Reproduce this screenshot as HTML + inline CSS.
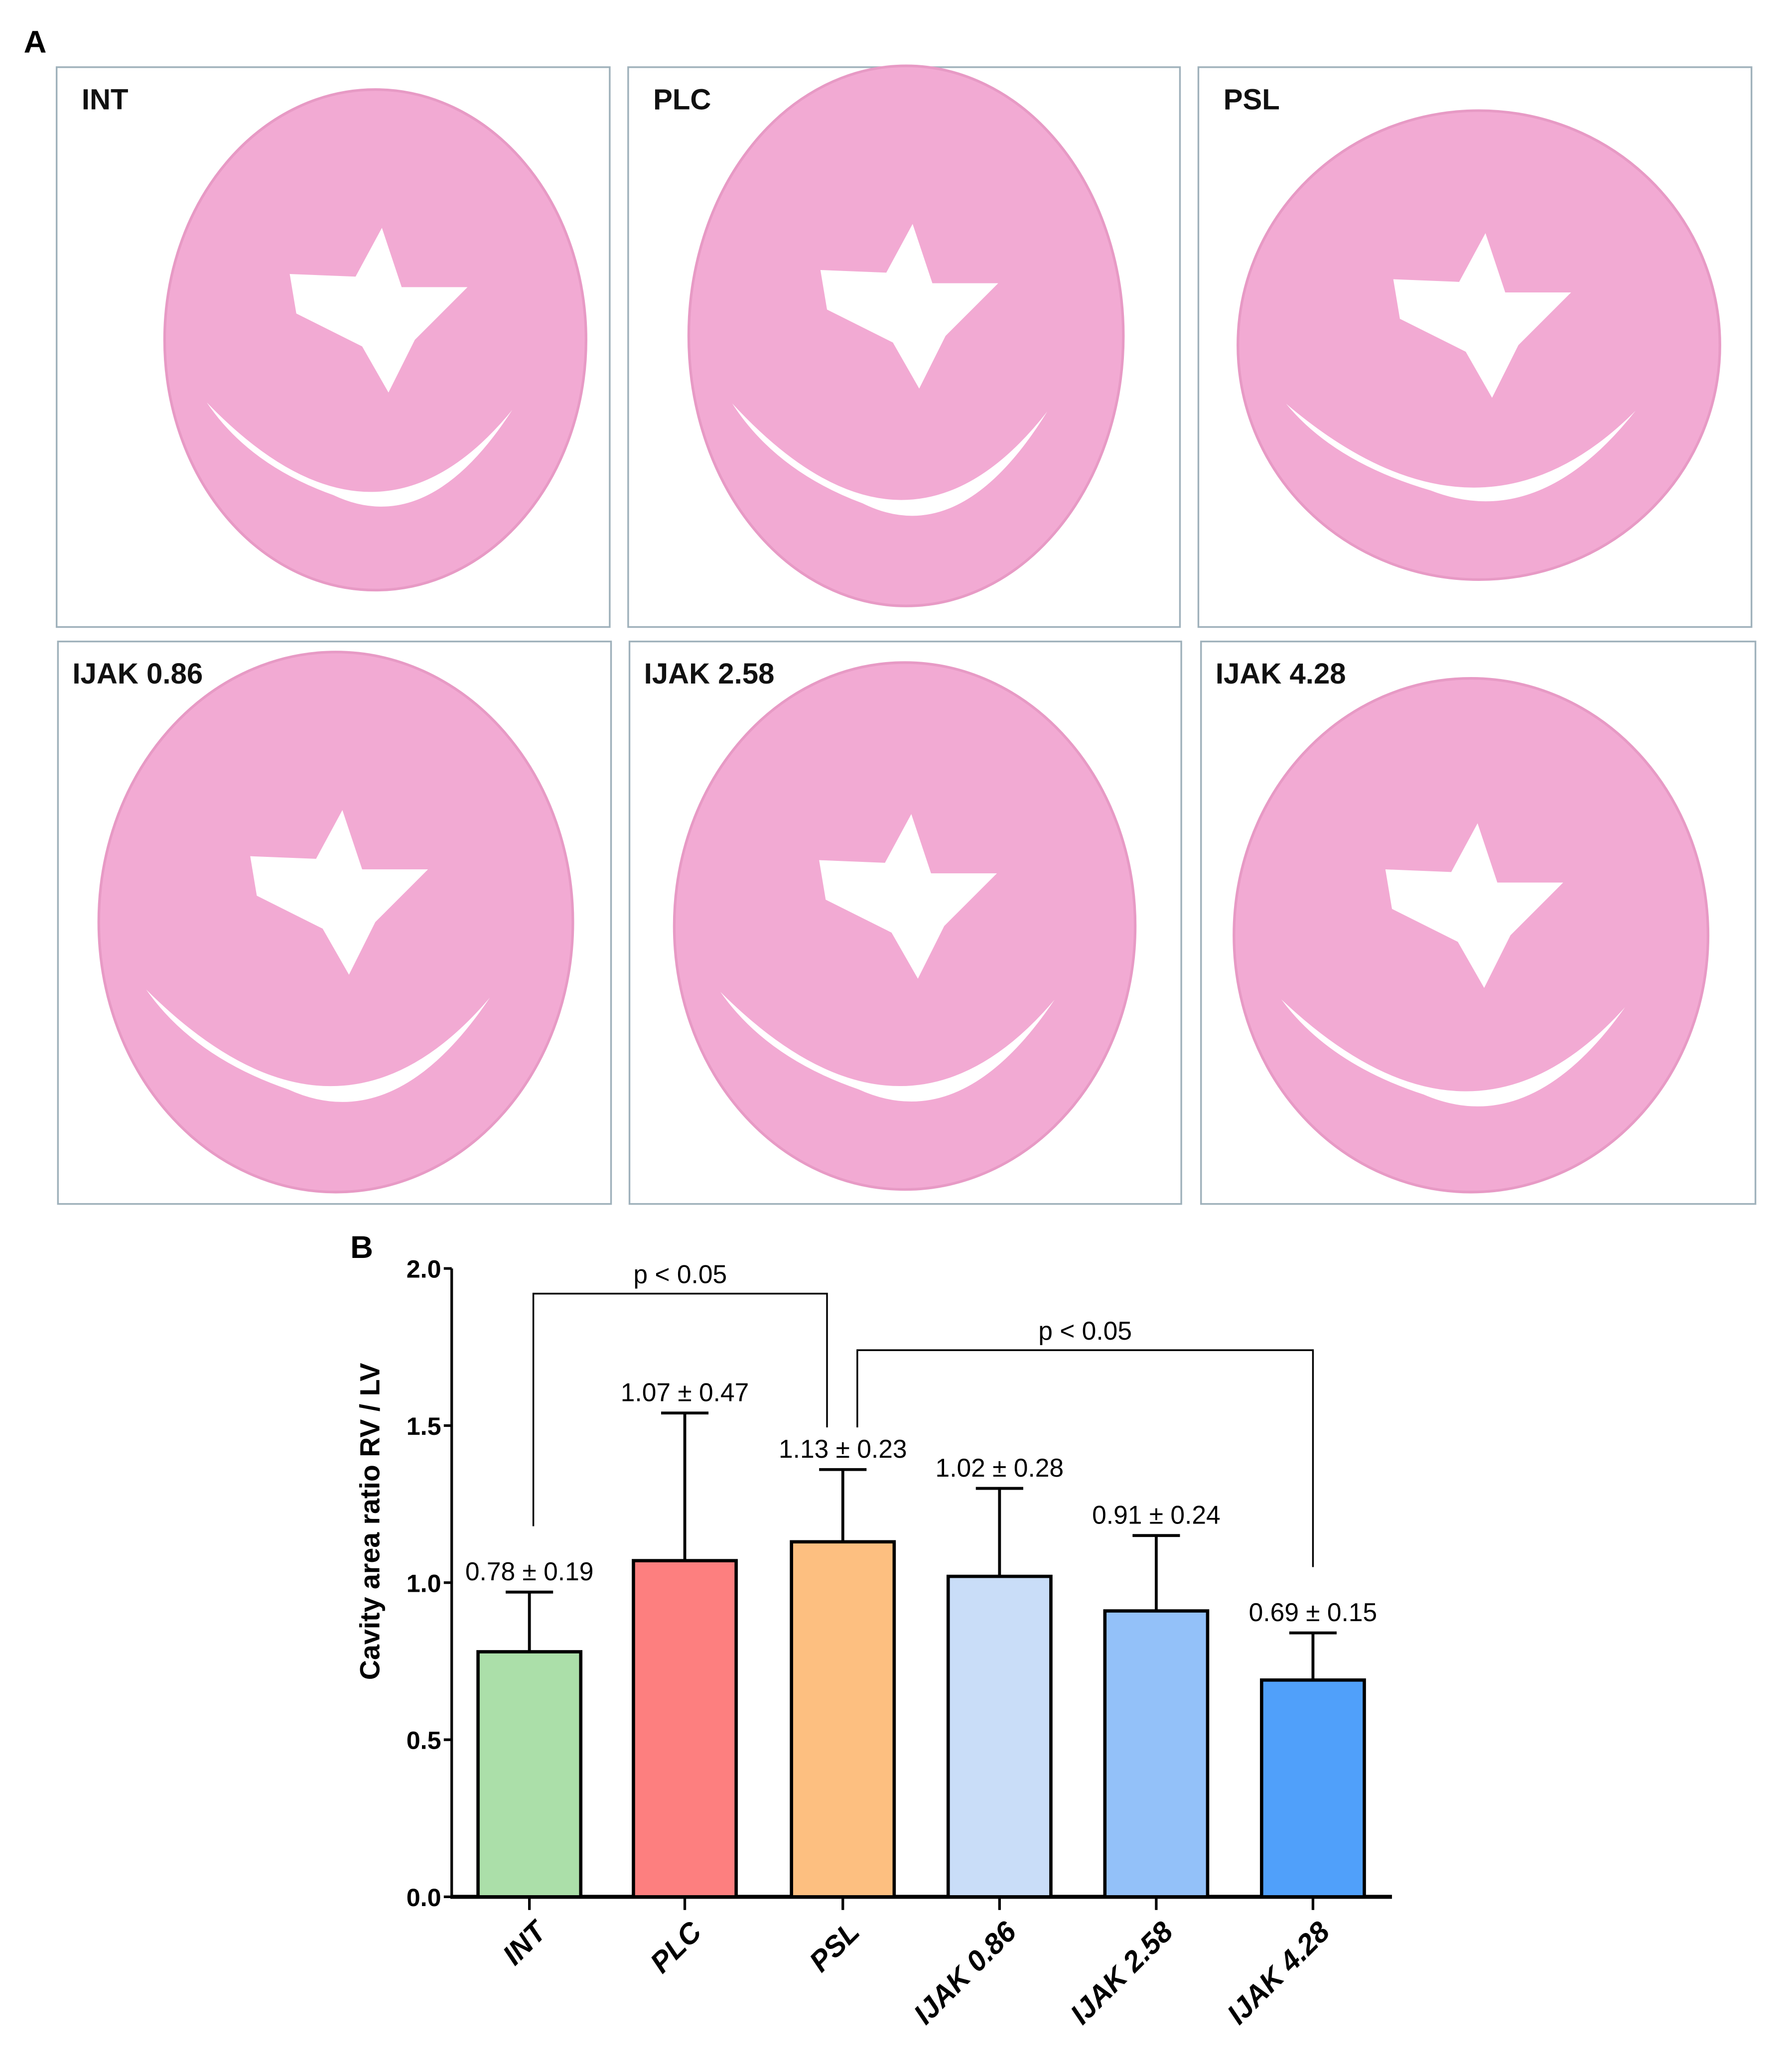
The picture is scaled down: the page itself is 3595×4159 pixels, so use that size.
<!DOCTYPE html>
<html><head><meta charset="utf-8"><style>
html,body{margin:0;padding:0;background:#fff;}
svg{display:block;}
text{font-family:"Liberation Sans",Arial,sans-serif;}
</style></head><body>
<svg width="3595" height="4159" viewBox="0 0 1360 1573" preserveAspectRatio="none">
<rect x="0" y="0" width="1360" height="1573" fill="#fff"/>
<text x="18" y="40" font-size="24" font-weight="bold">A</text>
<g id="panels"></g>
<text x="266" y="955" font-size="24" font-weight="bold">B</text>
<g id="chart"></g>
</svg>
<script>
const categories = ["INT","PLC","PSL","IJAK 0.86","IJAK 2.58","IJAK 4.28"];
const means = [0.78,1.07,1.13,1.02,0.91,0.69];
const sds = [0.19,0.47,0.23,0.28,0.24,0.15];
const colors = ["#abdfa9","#fd7f7f","#fdbf80","#c9ddf8","#93c1f9","#50a0fa"];
const yTicks = [0,0.5,1.0,1.5,2.0];
const yTickLabels = ["0.0","0.5","1.0","1.5","2.0"];
const brackets = [{from:0,to:2,level:1.92,label:"p < 0.05"},{from:2,to:5,level:1.74,label:"p < 0.05"}];

const NS="http://www.w3.org/2000/svg";
function mk(tag,attrs,parent){const e=document.createElementNS(NS,tag);for(const k in attrs)e.setAttribute(k,attrs[k]);parent.appendChild(e);return e;}

const panels=document.getElementById('panels');
const boxes=[[43,51,420,425,"INT",285,258,160,190],[477,51,419,425,"PLC",688,255,165,205],[910,51,420,425,"PSL",1123,262,183,178],
[44,487,420,427,"IJAK 0.86",255,700,180,205],[478,487,419,427,"IJAK 2.58",687,703,175,200],[912,487,421,427,"IJAK 4.28",1117,710,180,195]];
boxes.forEach((b,i)=>{
  const r=mk('rect',{x:b[0],y:b[1],width:b[2],height:b[3],fill:'#fff',stroke:'#9fb1bb','stroke-width':1.3},panels);
  
  
  const h=mk('ellipse',{cx:b[5],cy:b[6],rx:b[7],ry:b[8],fill:'#f2aad3',stroke:'#e79ac5','stroke-width':2},panels);
  
  
  const cx=b[5],cy=b[6],rx=b[7],ry=b[8];
  const lv=mk('path',{d:`M${cx-65},${cy-50} L${cx-15},${cy-48} L${cx+5},${cy-85} L${cx+20},${cy-40} L${cx+70},${cy-40} L${cx+30},${cy} L${cx+10},${cy+40} L${cx-10},${cy+5} L${cx-60},${cy-20} Z`,fill:'#fff'},panels);
  
  
  const rv=mk('path',{d:`M${cx-rx*0.8},${cy+ry*0.25} Q${cx},${cy+ry*0.95} ${cx+rx*0.65},${cy+ry*0.28} Q${cx+rx*0.25},${cy+ry*0.8} ${cx-rx*0.2},${cy+ry*0.62} Q${cx-rx*0.6},${cy+ry*0.5} ${cx-rx*0.8},${cy+ry*0.25} Z`,fill:'#fff'},panels);
  
  
  const t=mk('text',{x:b[0]+(i<3?19:11),y:b[1]+32,'font-size':22,'font-weight':'bold',fill:'#111'},panels);
  t.textContent=b[4];
  
  
});

const g=document.getElementById('chart');
const X0=343, Y0=1440, PXU=238.5;
const centers=[402,520,640,759,878,997], BW=78;
function y(v){return Y0-v*PXU;}
function xc(i){return centers[i];}
mk('line',{x1:X0,y1:y(0)+1,x2:X0,y2:y(2),stroke:'#000','stroke-width':2},g);
mk('line',{x1:X0-1,y1:Y0,x2:1057,y2:Y0,stroke:'#000','stroke-width':3},g);
yTicks.forEach((v,i)=>{
  const l=mk('line',{x1:X0-6,y1:y(v),x2:X0,y2:y(v),stroke:'#000','stroke-width':2},g);
  
  
  const t=mk('text',{x:X0-8,y:y(v)+7,'font-size':19,'font-weight':'bold','text-anchor':'end'},g);
  t.textContent=yTickLabels[i];
  
  
});
const yl=mk('text',{x:0,y:0,'font-size':21,'font-weight':'bold','text-anchor':'middle',transform:'translate(288,1155) rotate(-90)'},g);
yl.textContent="Cavity area ratio RV / LV";


categories.forEach((c,i)=>{
  const cx=xc(i);
  const bar=mk('rect',{x:cx-BW/2,y:y(means[i]),width:BW,height:Y0-y(means[i]),fill:colors[i],stroke:'#000','stroke-width':2.5},g);
  
  
  const top=y(means[i]+sds[i]);
  const e=mk('path',{d:`M${cx},${y(means[i])} V${top} M${cx-18},${top} H${cx+18}`,stroke:'#000','stroke-width':2.2,fill:'none'},g);
  
  
  const a=mk('text',{x:cx,y:top-9,'font-size':19.5,'text-anchor':'middle'},g);
  a.textContent=means[i].toFixed(2)+" \u00b1 "+sds[i].toFixed(2);
  
  
  const tk=mk('line',{x1:cx,y1:Y0,x2:cx,y2:Y0+10,stroke:'#000','stroke-width':2},g);
  
  
  const xl=mk('text',{x:0,y:0,'font-size':22,'font-weight':'bold','font-style':'italic','text-anchor':'end',transform:`translate(${cx+14},${Y0+28}) rotate(-45)`},g);
  xl.textContent=c;
  
  
});
brackets.forEach((b,k)=>{
  const x1=xc(b.from)+(k==1?11:3), x2=xc(b.to)+(k==0?-12:0);
  const yb=y(b.level);
  const lEnd = k==0 ? y(means[b.from]+sds[b.from])-50 : y(means[b.from]+sds[b.from])-32;
  const rEnd = k==0 ? y(means[b.to]+sds[b.to])-32 : y(means[b.to]+sds[b.to])-50;
  const p=mk('path',{d:`M${x1},${lEnd} V${yb} H${x2} V${rEnd}`,stroke:'#000','stroke-width':1.3,fill:'none'},g);
  
  
  const t=mk('text',{x:(x1+x2)/2,y:yb-8,'font-size':19.5,'text-anchor':'middle'},g);
  t.textContent=b.label;
  
  
});
</script>
</body></html>
